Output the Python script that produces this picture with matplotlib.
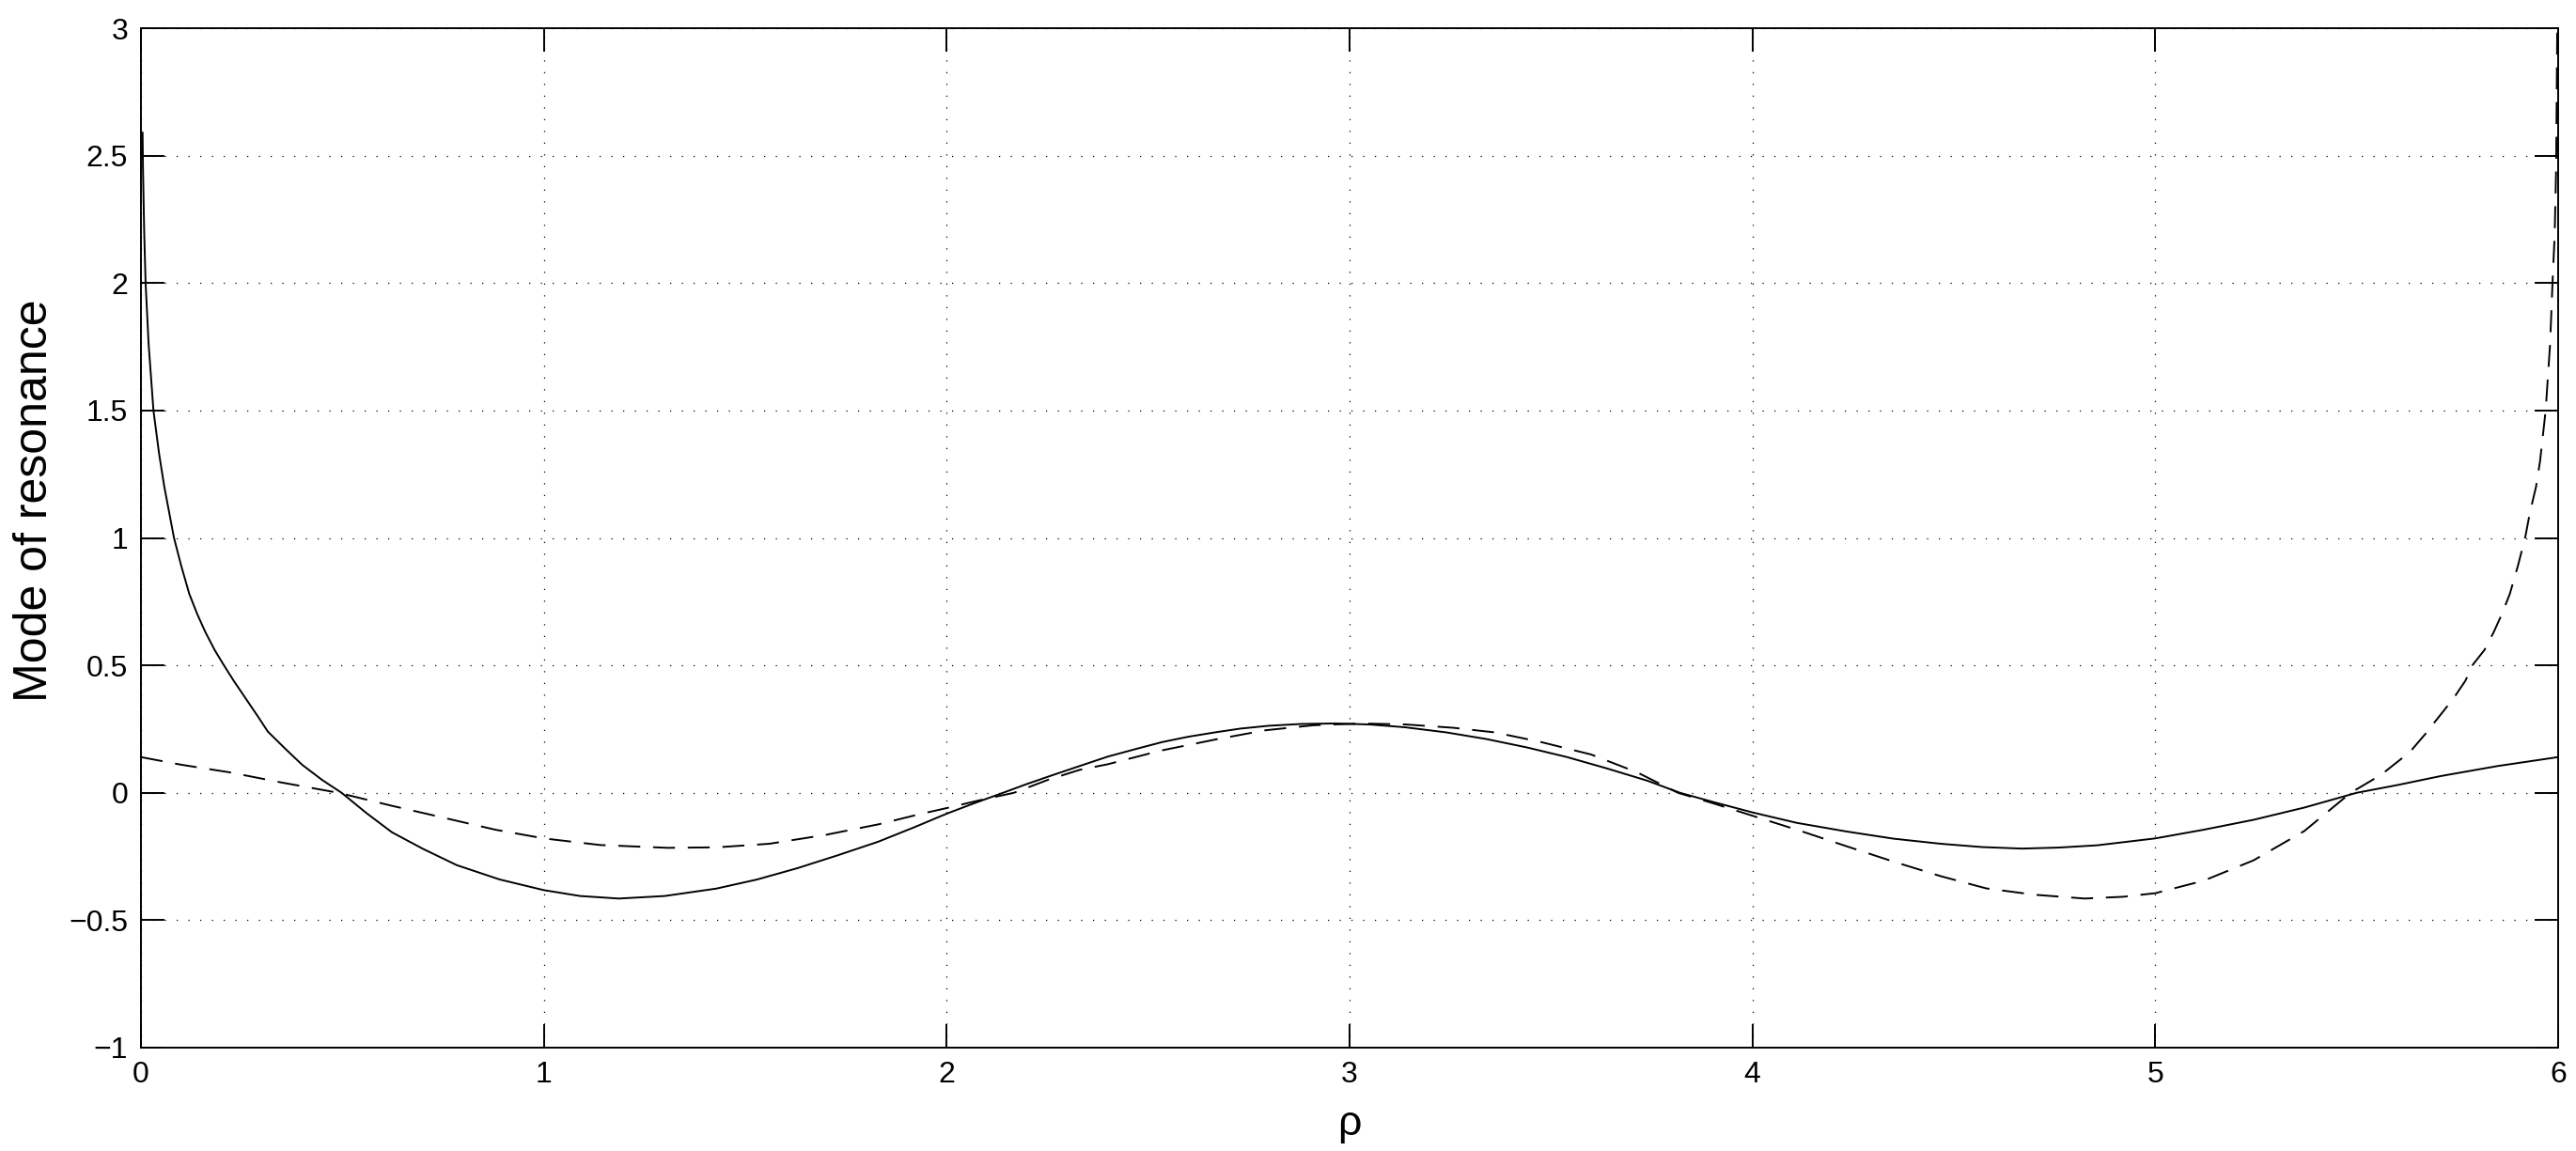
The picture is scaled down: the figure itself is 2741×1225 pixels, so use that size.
import matplotlib
matplotlib.use("Agg")
import matplotlib.pyplot as plt

plt.rcParams['font.family'] = ['Liberation Sans', 'DejaVu Sans']

# solid curve
rho_solid = [0.004, 0.005, 0.008, 0.0115, 0.019, 0.031, 0.045, 0.058, 0.07, 0.082,
             0.10, 0.12, 0.14, 0.16, 0.183, 0.206, 0.23, 0.26, 0.29, 0.315,
             0.36, 0.40, 0.45, 0.498, 0.56, 0.623, 0.70, 0.784, 0.89, 1.0,
             1.09, 1.186, 1.30, 1.428, 1.53, 1.629, 1.73, 1.83, 1.92, 2.0,
             2.07, 2.14, 2.20, 2.268, 2.33, 2.40, 2.47, 2.535, 2.60, 2.67,
             2.73, 2.80, 2.88, 2.964, 3.05, 3.138, 3.24, 3.339, 3.44, 3.54,
             3.64, 3.74, 3.82, 3.90, 4.0, 4.11, 4.234, 4.35, 4.467, 4.57,
             4.669, 4.76, 4.856, 5.0, 5.12, 5.244, 5.37, 5.5, 5.60, 5.71,
             5.85, 6.0]
mode_solid = [2.59, 2.45, 2.2, 2.0, 1.76, 1.5, 1.33, 1.2, 1.1, 1.0,
              0.89, 0.78, 0.7, 0.63, 0.56, 0.5, 0.44, 0.37, 0.3, 0.24,
              0.17, 0.11, 0.05, 0.0, -0.08, -0.155, -0.22, -0.284, -0.34, -0.382,
              -0.405, -0.415, -0.405, -0.376, -0.34, -0.296, -0.245, -0.192, -0.135, -0.082,
              -0.04, 0.0, 0.035, 0.072, 0.105, 0.142, 0.172, 0.199, 0.22, 0.238,
              0.252, 0.263, 0.27, 0.272, 0.268, 0.257, 0.237, 0.211, 0.178, 0.14,
              0.095, 0.047, 0.0, -0.035, -0.077, -0.118, -0.152, -0.18, -0.2, -0.213,
              -0.219, -0.215, -0.206, -0.179, -0.145, -0.106, -0.058, 0.0, 0.03, 0.066,
              0.105, 0.14]

# dashed curve
rho_dashed = [0.0, 0.1, 0.221, 0.35, 0.49, 0.62, 0.757, 0.88, 1.0, 1.14,
              1.307, 1.43, 1.56, 1.70, 1.83, 1.93, 2.0, 2.08, 2.167, 2.25,
              2.33, 2.40, 2.53, 2.67, 2.79, 2.91, 3.03, 3.14, 3.258, 3.36,
              3.473, 3.60, 3.714, 3.815, 3.90, 4.0, 4.12, 4.234, 4.35, 4.467,
              4.58, 4.70, 4.825, 4.92, 5.0, 5.12, 5.244, 5.37, 5.485, 5.56,
              5.632, 5.67, 5.70, 5.74, 5.77, 5.787, 5.817, 5.84, 5.86, 5.88,
              5.90, 5.918, 5.93, 5.945, 5.955, 5.969, 5.98, 5.986, 5.9914, 5.995,
              5.998]
mode_dashed = [0.14, 0.11, 0.08, 0.04, 0.0, -0.05, -0.1, -0.145, -0.179, -0.205,
               -0.216, -0.214, -0.2, -0.165, -0.124, -0.085, -0.06, -0.03, 0.0, 0.05,
               0.09, 0.112, 0.165, 0.21, 0.245, 0.265, 0.272, 0.268, 0.255, 0.237,
               0.2, 0.15, 0.08, 0.0, -0.04, -0.09, -0.15, -0.21, -0.27, -0.327,
               -0.375, -0.40, -0.415, -0.408, -0.394, -0.345, -0.265, -0.15, 0.0, 0.07,
               0.16, 0.23, 0.29, 0.37, 0.44, 0.5, 0.56, 0.63, 0.70, 0.78,
               0.89, 1.0, 1.1, 1.2, 1.3, 1.5, 1.76, 2.0, 2.19, 2.45,
               3.05]

x_ticks = [0, 1, 2, 3, 4, 5, 6]
y_ticks = [-1, -0.5, 0, 0.5, 1, 1.5, 2, 2.5, 3]
y_tick_labels = ['\u22121', '\u22120.5', '0', '0.5', '1', '1.5', '2', '2.5', '3']

fig = plt.figure(figsize=(27.41, 12.25), dpi=100)
ax = fig.add_axes([150 / 2741, 1 - 1115 / 1225, 2572 / 2741, 1085 / 1225])

ax.plot(rho_solid, mode_solid, color='k', linewidth=1.4)
ax.plot(rho_dashed, mode_dashed, color='k', linewidth=1.4, linestyle=(0, (12, 7)))

ax.set_xlim(0, 6)
ax.set_ylim(-1, 3)
ax.set_xticks(x_ticks)
ax.set_yticks(y_ticks)
ax.set_yticklabels(y_tick_labels)

ax.grid(True, color='k', linestyle=(0, (1, 9)), linewidth=0.9)
ax.tick_params(direction='in', top=True, right=True, length=18, width=1.4,
               labelsize=23, pad=10)
for s in ax.spines.values():
    s.set_linewidth(1.4)

ax.set_xlabel('\u03c1', fontsize=32, labelpad=12)
ax.set_ylabel('Mode of resonance', fontsize=36)
ax.yaxis.set_label_coords(-0.035, 0.537)

fig.savefig('out.png', dpi=100)
